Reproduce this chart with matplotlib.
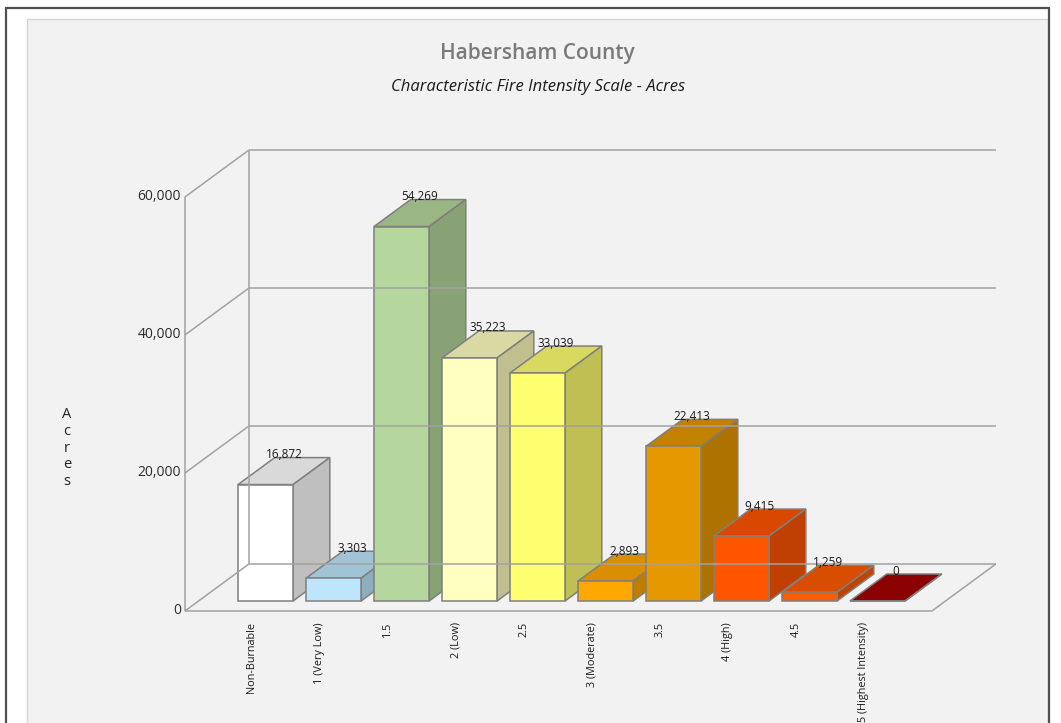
import numpy as np
import matplotlib.pyplot as plt
from matplotlib.patches import Polygon, Rectangle
from matplotlib.colors import to_rgb

categories = ['Non-Burnable', '1 (Very Low)', '1.5', '2 (Low)', '2.5',
              '3 (Moderate)', '3.5', '4 (High)', '4.5', '5 (Highest Intensity)']
acres = [16872, 3303, 54269, 35223, 33039, 2893, 22413, 9415, 1259, 0]
bar_colors = ['#ffffff', '#bde6fc', '#b5d69c', '#ffffc0', '#ffff70',
              '#ffa800', '#e69800', '#ff5500', '#ff5a00', '#8b0000']
yticks = [0, 20000, 40000, 60000]

plt.rcParams['font.family'] = ['Open Sans', 'DejaVu Sans']

W, H = 1061, 723
fig = plt.figure(figsize=(W / 100, H / 100), dpi=100)
fig.patch.set_facecolor('white')

def fx(px):
    return px / W

def fy(py):
    return 1 - py / H

# outer frame and grey panel, kept behind the plot axes
fig.add_artist(Rectangle((fx(27), fy(740)), fx(1048) - fx(27), fy(19) - fy(740),
                         transform=fig.transFigure, facecolor='#f2f2f2',
                         edgecolor='#d6d6d6', lw=1.0, zorder=-10))
fig.add_artist(Rectangle((fx(6), fy(740)), fx(1049) - fx(6), fy(8) - fy(740),
                         transform=fig.transFigure, facecolor='none',
                         edgecolor='#505050', lw=1.6, zorder=-9))

fig.text(fx(537), fy(53), 'Habersham County', ha='center', va='center',
         fontsize=15, fontweight='semibold', color='#7a7a7a')
fig.text(fx(538), fy(87), 'Characteristic Fire Intensity Scale - Acres',
         ha='center', va='center', fontsize=12, style='italic', color='#1a1a1a')
fig.text(fx(67), fy(448), 'A\nc\nr\ne\ns', ha='center', va='center',
         fontsize=10.5, linespacing=1.15, color='#222222')

# plot area: x in category units, y in acres
ax = fig.add_axes([fx(150), fy(640), fx(1010) - fx(150), fy(130) - fy(640)])
ax.set_xlim((150 - 251.9) / 68, (1010 - 251.9) / 68)
ax.set_ylim((611 - 640) / 0.0069, (611 - 130) / 0.0069)
ax.axis('off')

DX = 64 / 68          # depth shift in category units
DY = 47 / 0.0069      # depth shift in acres
x_lo, x_hi = -0.985, 10.0
z0, z1 = 0.213, 0.787
hw = 0.405

def proj(x, y, z):
    return (x + z * DX, y + z * DY)

wall = dict(color='#a2a2a2', lw=1.1, solid_capstyle='butt')

def seg(p, q):
    ax.plot([p[0], q[0]], [p[1], q[1]], **wall)

ymax = yticks[-1]
seg(proj(x_lo, 0, 0), proj(x_lo, ymax, 0))
seg(proj(x_lo, 0, 1), proj(x_lo, ymax, 1))
for t in yticks:
    seg(proj(x_lo, t, 0), proj(x_lo, t, 1))
    seg(proj(x_lo, t, 1), proj(x_hi, t, 1))
    ax.annotate(f'{t:,}', xy=proj(x_lo, t, 0), xytext=(-4, 0),
                textcoords='offset pixels', ha='right', va='center',
                fontsize=10, color='#2b2b2b')
seg(proj(x_lo, 0, 0), proj(x_hi, 0, 0))
seg(proj(x_hi, 0, 0), proj(x_hi, 0, 1))

def shade(c, k):
    return tuple(np.array(to_rgb(c)) * k)

edge = dict(edgecolor='#7f7f7f', lw=1.1, joinstyle='miter')
for i, (v, c) in enumerate(zip(acres, bar_colors)):
    xl, xr = i - hw, i + hw
    top = [proj(xl, v, z0), proj(xr, v, z0), proj(xr, v, z1), proj(xl, v, z1)]
    side = [proj(xr, 0, z0), proj(xr, 0, z1), proj(xr, v, z1), proj(xr, v, z0)]
    front = [proj(xl, 0, z0), proj(xr, 0, z0), proj(xr, v, z0), proj(xl, v, z0)]
    top_c = c if v == 0 else shade(c, 0.85)
    ax.add_patch(Polygon(top, closed=True, facecolor=top_c, **edge))
    ax.add_patch(Polygon(side, closed=True, facecolor=shade(c, 0.75), **edge))
    ax.add_patch(Polygon(front, closed=True, facecolor=c, **edge))
    ax.annotate(f'{v:,}', xy=(i + 0.5 * DX, v + z1 * DY), xytext=(0, 3),
                textcoords='offset pixels', ha='center', va='center',
                fontsize=8.5, color='#1a1a1a')
    ax.annotate(categories[i], xy=(i, 0), xytext=(0, -11),
                textcoords='offset pixels', ha='center', va='top',
                rotation=90, fontsize=7.8, color='#1a1a1a', annotation_clip=False)

fig.savefig('out.png', dpi=100)
